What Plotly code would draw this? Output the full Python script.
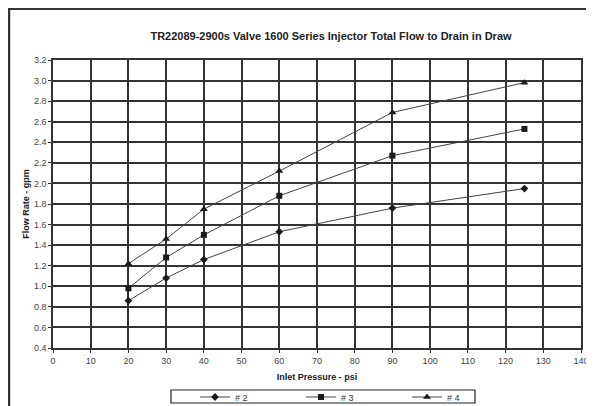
import plotly.graph_objects as go

# Dados
pressao = [20, 30, 40, 60, 90, 125]
vazao_2 = [0.86, 1.08, 1.26, 1.53, 1.76, 1.95]
vazao_3 = [0.98, 1.28, 1.50, 1.88, 2.27, 2.53]
vazao_4 = [1.22, 1.46, 1.75, 2.12, 2.69, 2.98]

series = [
    ('# 2', vazao_2, 'diamond', 6),
    ('# 3', vazao_3, 'square', 6),
    ('# 4', vazao_4, 'triangle-up', 7),
]

fig = go.Figure()

for nome, valores, simbolo, tam in series:
    fig.add_trace(go.Scatter(
        x=pressao,
        y=valores,
        mode='lines+markers',
        name=nome,
        line=dict(color='#444444', width=1),
        marker=dict(symbol=simbolo, size=tam, color='#1a1a1a'),
        cliponaxis=False
    ))

# a página tem margem de 8px no body: posições abaixo em pixels da página
OFF = 8
W, H = 594, 406
ml, mt = 53 - OFF, 60 - OFF
pw, ph = 528, 288
mr = W - ml - pw
mb = H - mt - ph

def px(x):
    return (x - OFF - ml) / pw

def py(y):
    return (H - mb - (y - OFF)) / ph

# Moldura externa (topo e esquerda)
fig.add_shape(type='line', xref='paper', yref='paper',
              x0=px(OFF), x1=px(620), y0=py(OFF + 1), y1=py(OFF + 1),
              line=dict(color='#333333', width=2))
fig.add_shape(type='line', xref='paper', yref='paper',
              x0=px(OFF + 1), x1=px(OFF + 1), y0=py(OFF), y1=py(430),
              line=dict(color='#333333', width=2.5))

# Caixa da legenda
fig.add_shape(type='rect', xref='paper', yref='paper',
              x0=px(171), x1=px(475), y0=py(390), y1=py(403),
              line=dict(color='#222222', width=1.2))

eixo = dict(
    showgrid=True,
    gridcolor='#333333',
    gridwidth=1.5,
    showline=True,
    linecolor='#333333',
    linewidth=1.5,
    mirror=True,
    ticks='outside',
    ticklen=3,
    tickcolor='#333333',
    zeroline=False,
    tickfont=dict(size=9, color='#444444'),
)

fig.update_layout(
    width=W,
    height=H,
    margin=dict(l=ml, r=mr, t=mt, b=mb, autoexpand=False),
    paper_bgcolor='white',
    plot_bgcolor='white',
    font=dict(family='Arial, Liberation Sans, sans-serif', color='#222222'),
    title=dict(
        text='<b>TR22089-2900s Valve 1600 Series Injector Total Flow to Drain in Draw</b>',
        font=dict(size=11, color='#222222'),
        x=px(331), xanchor='center', xref='paper',
        y=1 - (36 - OFF) / H, yanchor='middle'
    ),
    xaxis=dict(
        eixo,
        range=[0, 140],
        dtick=10,
        title=dict(text='<b>Inlet Pressure - psi</b>', font=dict(size=9, color='#222222'), standoff=9),
    ),
    yaxis=dict(
        eixo,
        range=[0.4, 3.2],
        dtick=0.2,
        tickformat='.1f',
        title=dict(text='<b>Flow Rate - gpm</b>', font=dict(size=9, color='#222222'), standoff=3),
    ),
    showlegend=True,
    legend=dict(
        orientation='h',
        x=px(195), xanchor='left',
        y=py(397), yanchor='middle',
        bgcolor='rgba(0,0,0,0)',
        borderwidth=0,
        font=dict(size=9, color='#333333'),
        entrywidth=61,
        itemwidth=30,
        tracegroupgap=0,
    ),
)

fig.write_html('out.html')
